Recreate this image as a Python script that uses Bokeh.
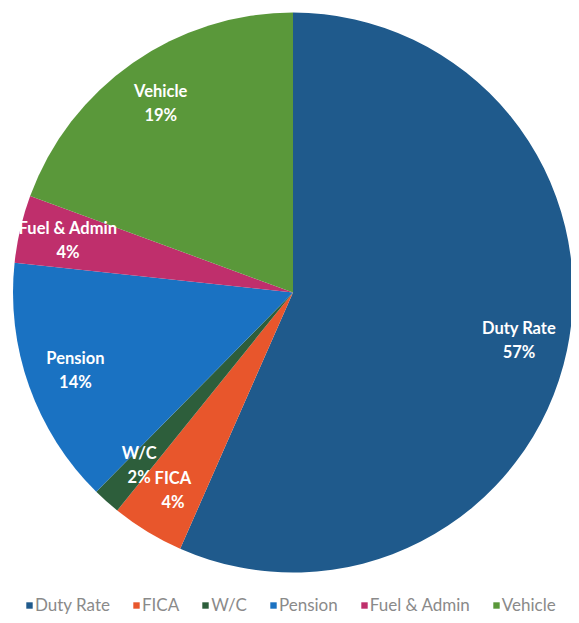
import numpy as np
from bokeh.plotting import figure
from bokeh.models import Range1d, Legend, LegendItem, ColumnDataSource
from bokeh.core.properties import value
from bokeh.embed import file_html
from bokeh.resources import INLINE

categories = ["Duty Rate", "FICA", "W/C", "Pension", "Fuel & Admin", "Vehicle"]
shares = [56.6, 4.2, 1.6, 14.3, 3.9, 19.4]
colors = ["#1f5a8c", "#e8562c", "#2d5e3b", "#1a72c2", "#bf2f6c", "#5a983a"]

W, H = 571, 615
CX, CY, R = 292.5, 323, 280

vals = np.array(shares)
frac = vals / vals.sum()
cum = np.concatenate([[0], np.cumsum(frac)])
start = np.pi / 2 - 2 * np.pi * cum[:-1]
end = np.pi / 2 - 2 * np.pi * cum[1:]
mid = (start + end) / 2
pct = [f"{int(np.floor(v + 0.5))}%" for v in vals]

src = ColumnDataSource(dict(
    cat=categories, start=start, end=end, color=colors,
    lx=CX + 0.825 * R * np.cos(mid), ly=CY + 0.825 * R * np.sin(mid), pct=pct,
))

p = figure(width=W, height=H, output_backend="svg", toolbar_location=None,
           x_range=Range1d(0, W), y_range=Range1d(0, H), min_border=0)
p.axis.visible = False
p.grid.visible = False
p.outline_line_color = None
p.background_fill_color = "white"

r = p.wedge(x=CX, y=CY, radius=R, start_angle="start", end_angle="end",
            direction="clock", fill_color="color", line_color=None, source=src)

p.text(x="lx", y="ly", text="cat", source=src, y_offset=-12, text_color="white",
       text_font=value("Lato"), text_font_style="bold", text_font_size="16.5px",
       text_align="center", text_baseline="middle")
p.text(x="lx", y="ly", text="pct", source=src, y_offset=12, text_color="white",
       text_font=value("Lato"), text_font_style="bold", text_font_size="16.5px",
       text_align="center", text_baseline="middle")

items = [LegendItem(label=c, renderers=[r], index=i) for i, c in enumerate(categories)]
legend = Legend(items=items, orientation="horizontal", location=(25, 0),
                glyph_width=8, glyph_height=8, label_standoff=2, spacing=22,
                padding=0, margin=0, border_line_color=None, background_fill_alpha=0,
                label_text_color="#8a8a8a", label_text_font="Lato",
                label_text_font_size="17px")
p.add_layout(legend, "center")

open("out.html", "w").write(file_html(p, INLINE))
